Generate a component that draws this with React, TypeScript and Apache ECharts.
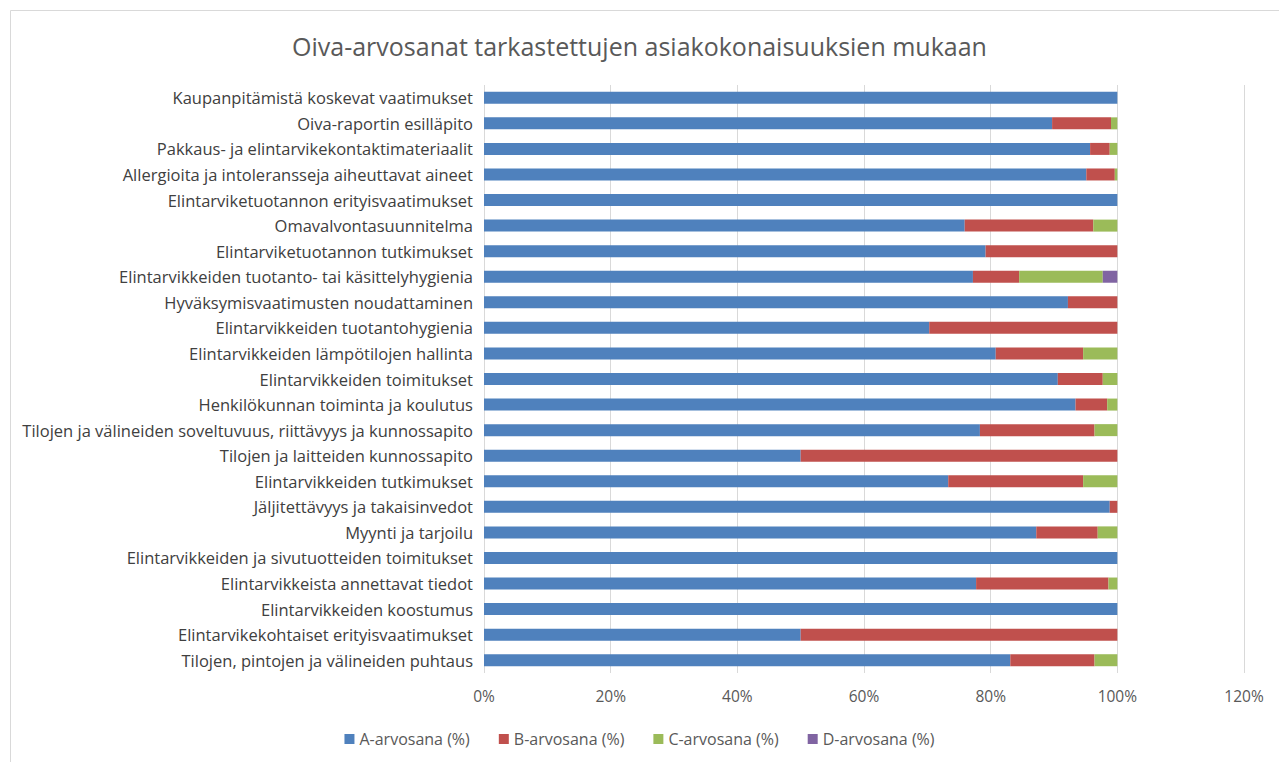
import React, { useEffect, useRef } from "react";
import * as echarts from "echarts";

const categories = [
  "Kaupanpitämistä koskevat vaatimukset",
  "Oiva-raportin esilläpito",
  "Pakkaus- ja elintarvikekontaktimateriaalit",
  "Allergioita ja intoleransseja aiheuttavat aineet",
  "Elintarviketuotannon erityisvaatimukset",
  "Omavalvontasuunnitelma",
  "Elintarviketuotannon tutkimukset",
  "Elintarvikkeiden tuotanto- tai käsittelyhygienia",
  "Hyväksymisvaatimusten noudattaminen",
  "Elintarvikkeiden tuotantohygienia",
  "Elintarvikkeiden lämpötilojen hallinta",
  "Elintarvikkeiden toimitukset",
  "Henkilökunnan toiminta ja koulutus",
  "Tilojen ja välineiden soveltuvuus, riittävyys ja kunnossapito",
  "Tilojen ja laitteiden kunnossapito",
  "Elintarvikkeiden tutkimukset",
  "Jäljitettävyys ja takaisinvedot",
  "Myynti ja tarjoilu",
  "Elintarvikkeiden ja sivutuotteiden toimitukset",
  "Elintarvikkeista annettavat tiedot",
  "Elintarvikkeiden koostumus",
  "Elintarvikekohtaiset erityisvaatimukset",
  "Tilojen, pintojen ja välineiden puhtaus",
];

const gradeA = [100, 89.7, 95.7, 95.1, 100, 75.9, 79.2, 77.2, 92.2, 70.3, 80.8, 90.6, 93.4, 78.3, 50, 73.3, 98.8, 87.2, 100, 77.7, 100, 50, 83.1];
const gradeB = [0, 9.3, 3.1, 4.5, 0, 20.3, 20.8, 7.3, 7.8, 29.7, 13.8, 7.1, 5.0, 18.1, 50, 21.3, 1.2, 9.7, 0, 20.9, 0, 50, 13.3];
const gradeC = [0, 1.0, 1.2, 0.4, 0, 3.8, 0, 13.2, 0, 0, 5.4, 2.3, 1.6, 3.6, 0, 5.4, 0, 3.1, 0, 1.4, 0, 0, 3.6];
const gradeD = [0, 0, 0, 0, 0, 0, 0, 2.3, 0, 0, 0, 0, 0, 0, 0, 0, 0, 0, 0, 0, 0, 0, 0];

const seriesNames = ["A-arvosana (%)", "B-arvosana (%)", "C-arvosana (%)", "D-arvosana (%)"];
const seriesColors = ["#4F81BD", "#C0504D", "#9BBB59", "#8064A2"];
const seriesData = [gradeA, gradeB, gradeC, gradeD];

const FONT = "'Open Sans', sans-serif";

export default function App() {
  const ref = useRef<HTMLDivElement>(null);
  useEffect(() => {
    document.body.style.margin = "0";
    if (!ref.current) return;
    const chart = echarts.init(ref.current, null, { renderer: "svg" });
    chart.setOption({
      animation: false,
      backgroundColor: "#ffffff",
      textStyle: { fontFamily: FONT },
      title: {
        text: "Oiva-arvosanat tarkastettujen asiakokonaisuuksien mukaan",
        left: "center",
        top: 28,
        textStyle: { fontFamily: FONT, fontSize: 25, fontWeight: "normal", color: "#595959" },
      },
      graphic: [
        {
          type: "rect",
          shape: { x: 10.5, y: 10.5, width: 1280, height: 760 },
          style: { fill: "none", stroke: "#d9d9d9", lineWidth: 1 },
          silent: true,
        },
      ],
      legend: {
        bottom: 10,
        left: "center",
        itemWidth: 10,
        itemHeight: 10,
        itemGap: 29,
        icon: "rect",
        textStyle: { fontFamily: FONT, fontSize: 16, color: "#595959" },
        data: seriesNames,
      },
      grid: { left: 484, right: 35, top: 85, bottom: 89, containLabel: false },
      xAxis: {
        type: "value",
        min: 0,
        max: 120,
        interval: 20,
        axisLabel: {
          formatter: (v: number) => v + "%",
          fontFamily: FONT,
          fontSize: 15.5,
          color: "#595959",
          margin: 15,
        },
        axisLine: { show: false },
        axisTick: { show: false },
        splitLine: { show: true, lineStyle: { color: "#d9d9d9", width: 1 } },
      },
      yAxis: {
        type: "category",
        inverse: true,
        data: categories,
        axisLabel: { fontFamily: FONT, fontSize: 16.5, color: "#404040", margin: 11 },
        axisLine: { show: false },
        axisTick: { show: false },
        splitLine: { show: false },
      },
      series: seriesNames.map((name, i) => ({
        name,
        type: "bar",
        stack: "total",
        barWidth: 12,
        data: seriesData[i],
        itemStyle: { color: seriesColors[i] },
      })),
    });
    return () => chart.dispose();
  }, []);
  return <div ref={ref} style={{ width: 1279, height: 762 }} />;
}
